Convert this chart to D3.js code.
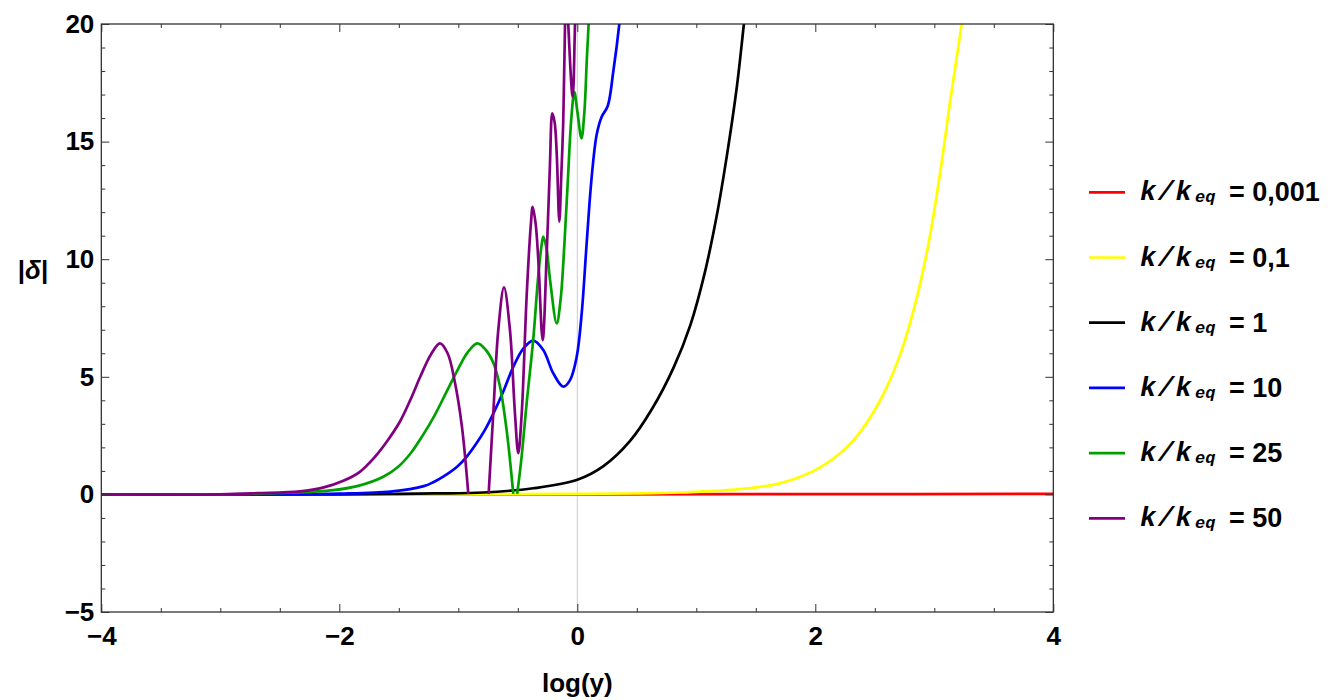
<!DOCTYPE html>
<html lang="en"><head>
<meta charset="utf-8">
<title>delta vs log(y)</title>
<script src="https://cdn.jsdelivr.net/npm/d3@7"></script>
<style>
  body { margin: 0; background: #fff; }
</style>
</head>
<body>
<script type="text/javascript">

// values: [log(y), |delta|]
var red = [[-4, 0], [0, 0.005], [2, 0.01], [4, 0.02]];

var yellow = [[-4, 0], [-1, 0.003], [0, 0.02], [0.5, 0.04], [0.86, 0.08], [1.28, 0.19],
  [1.7, 0.47], [2.04, 1.15], [2.32, 2.3], [2.54, 3.95], [2.71, 5.9], [2.85, 8.3],
  [2.96, 10.9], [3.05, 13.7], [3.13, 16.6], [3.23, 20], [3.3, 22.5]];

var black = [[-4, 0], [-2, 0.005], [-1.5, 0.02], [-1.2, 0.04], [-0.79, 0.08], [-0.37, 0.26],
  [0, 0.62], [0.22, 1.2], [0.44, 2.25], [0.63, 3.65], [0.81, 5.4], [0.95, 7.2],
  [1.07, 9.4], [1.17, 11.8], [1.26, 14.5], [1.34, 17.3], [1.40, 20], [1.45, 22.3]];

var blue = [[-4, 0], [-2.5, 0.005], [-2, 0.03], [-1.57, 0.12], [-1.29, 0.35], [-1.21, 0.52],
  [-1.12, 0.78], [-1.01, 1.18], [-0.93, 1.6], [-0.85, 2.15], [-0.77, 2.8], [-0.7, 3.5],
  [-0.62, 4.4], [-0.54, 5.4], [-0.454, 6.2], [-0.37, 6.54], [-0.286, 6.14], [-0.202, 5.15],
  [-0.118, 4.58], [-0.061, 4.86], [-0.005, 5.85], [0.037, 7.7], [0.079, 10.7], [0.121, 13.5],
  [0.163, 15.3], [0.205, 16.06], [0.255, 16.5], [0.303, 18.0], [0.353, 20], [0.38, 21.5]];

var green = [[-4, 0], [-3, 0.005], [-2.41, 0.07], [-2.05, 0.18], [-1.85, 0.35], [-1.63, 0.75],
  [-1.5, 1.2], [-1.4, 1.75], [-1.3, 2.5], [-1.2, 3.35], [-1.1, 4.35], [-1.0, 5.35],
  [-0.92, 6.05], [-0.84, 6.42], [-0.77, 6.15], [-0.706, 5.6], [-0.65, 4.6], [-0.593, 2.7],
  [-0.538, 0.02],
  null,
  [-0.505, 0.02], [-0.47, 1.5], [-0.425, 3.9], [-0.37, 6.6], [-0.328, 9.3], [-0.3, 10.6],
  [-0.286, 10.96], [-0.26, 10.5], [-0.229, 9.12], [-0.173, 7.27], [-0.14, 8.3], [-0.11, 10.5],
  [-0.08, 13.3], [-0.05, 16.0], [-0.025, 17.1], [0.0, 16.3], [0.035, 15.14], [0.06, 16.3],
  [0.08, 18.5], [0.095, 20], [0.11, 22]];

var purple = [[-4, 0], [-3, 0.005], [-2.69, 0.05], [-2.33, 0.13], [-2.13, 0.3], [-1.966, 0.58],
  [-1.83, 0.95], [-1.7, 1.6], [-1.6, 2.25], [-1.49, 3.1], [-1.4, 4.05], [-1.32, 5.0],
  [-1.23, 5.95], [-1.154, 6.42], [-1.09, 6.0], [-1.03, 4.8], [-0.97, 2.9], [-0.916, 0.02],
  null,
  [-0.745, 0.02], [-0.706, 3.45], [-0.664, 6.99], [-0.616, 8.8], [-0.566, 6.99], [-0.524, 3.45],
  [-0.496, 1.75], [-0.467, 3.45], [-0.425, 8.5], [-0.39, 11.5], [-0.375, 12.23], [-0.35, 11.5],
  [-0.328, 10.0], [-0.291, 6.56], [-0.257, 10.25], [-0.23, 14.0], [-0.21, 16.2], [-0.19, 15.8],
  [-0.173, 14.5], [-0.151, 11.6], [-0.135, 13.5], [-0.118, 15.9], [-0.103, 20], [-0.09, 22],
  [-0.076, 20], [-0.039, 16.9], [-0.019, 20], [-0.005, 22]];

var legendLabels = ["0,001", "0,1", "1", "10", "25", "50"];
var xMajor = [-4, -2, 0, 2, 4];
var yMajor = [-5, 0, 5, 10, 15, 20];

var seriesData = [red, yellow, black, blue, green, purple];
var colors = ["#ff0000", "#ffff00", "#000000", "#0000ff", "#00a000", "#800080"];

var width = 1341;
var height = 700;
var plotL = 101.3, plotR = 1053.3, plotT = 24, plotB = 612;
var sans = "'Liberation Sans', Arial, sans-serif";
var mono = "'Liberation Mono', 'Courier New', monospace";

var svg = d3.select("body").append("svg")
            .attr("width", width)
            .attr("height", height);

var x = d3.scaleLinear().domain([-4, 4]).range([plotL, plotR]);
var y = d3.scaleLinear().domain([-5, 20]).range([plotB, plotT]);

var xMinor = d3.range(-4, 4.01, 0.5).filter(function(v) { return v % 2 !== 0; });
var yMinor = d3.range(-5, 20.01, 1).filter(function(v) { return v % 5 !== 0; });

svg.append("clipPath").attr("id", "plotclip")
   .append("rect")
   .attr("x", plotL).attr("y", plotT)
   .attr("width", plotR - plotL).attr("height", plotB - plotT);

// thin grey axes through the origin
svg.append("line")
   .attr("x1", x(0)).attr("x2", x(0)).attr("y1", plotT).attr("y2", plotB)
   .attr("stroke", "#cccccc").attr("stroke-width", 1);
svg.append("line")
   .attr("x1", plotL).attr("x2", plotR).attr("y1", y(0)).attr("y2", y(0))
   .attr("stroke", "#cccccc").attr("stroke-width", 1);

var line = d3.line()
    .defined(function(d) { return d !== null; })
    .x(function(d) { return x(d[0]); })
    .y(function(d) { return y(d[1]); })
    .curve(d3.curveCatmullRom.alpha(0.5));

svg.append("g").attr("clip-path", "url(#plotclip)")
   .selectAll("path")
   .data(seriesData)
   .enter()
   .append("path")
   .attr("d", line)
   .attr("fill", "none")
   .attr("stroke", function(d, i) { return colors[i]; })
   .attr("stroke-width", 2.7)
   .attr("stroke-linejoin", "round");

// frame
svg.append("rect")
   .attr("x", plotL).attr("y", plotT)
   .attr("width", plotR - plotL).attr("height", plotB - plotT)
   .attr("fill", "none").attr("stroke", "#222").attr("stroke-width", 1.2);

function styleAxis(g) {
    g.select(".domain").remove();
    g.selectAll(".tick line").attr("stroke", "#333").attr("stroke-width", 1);
    g.selectAll("text").attr("font-size", 26).attr("fill", "#000")
     .style("font-family", sans).style("font-weight", "bold");
}

var fmt = d3.format("d");

svg.append("g").attr("transform", "translate(0," + plotB + ")")
   .call(d3.axisBottom(x).tickValues(xMajor).tickSize(-8).tickPadding(15).tickFormat(fmt))
   .call(styleAxis);
svg.append("g").attr("transform", "translate(0," + plotB + ")")
   .call(d3.axisBottom(x).tickValues(xMinor).tickSize(-4).tickFormat(""))
   .call(styleAxis);
svg.append("g").attr("transform", "translate(0," + plotT + ")")
   .call(d3.axisTop(x).tickValues(xMajor).tickSize(-8).tickFormat(""))
   .call(styleAxis);
svg.append("g").attr("transform", "translate(0," + plotT + ")")
   .call(d3.axisTop(x).tickValues(xMinor).tickSize(-4).tickFormat(""))
   .call(styleAxis);

svg.append("g").attr("transform", "translate(" + plotL + ",0)")
   .call(d3.axisLeft(y).tickValues(yMajor).tickSize(-8).tickPadding(7).tickFormat(fmt))
   .call(styleAxis);
svg.append("g").attr("transform", "translate(" + plotL + ",0)")
   .call(d3.axisLeft(y).tickValues(yMinor).tickSize(-4).tickFormat(""))
   .call(styleAxis);
svg.append("g").attr("transform", "translate(" + plotR + ",0)")
   .call(d3.axisRight(y).tickValues(yMajor).tickSize(-8).tickFormat(""))
   .call(styleAxis);
svg.append("g").attr("transform", "translate(" + plotR + ",0)")
   .call(d3.axisRight(y).tickValues(yMinor).tickSize(-4).tickFormat(""))
   .call(styleAxis);

// axis titles
svg.append("text")
   .attr("x", (plotL + plotR) / 2).attr("y", 692)
   .attr("text-anchor", "middle").attr("font-size", 26)
   .style("font-family", sans).style("font-weight", "bold")
   .text("log(y)");

var ylab = svg.append("text")
   .attr("x", 33).attr("y", 279)
   .attr("text-anchor", "middle").attr("font-size", 26)
   .style("font-family", sans).style("font-weight", "bold");
ylab.append("tspan").text("|");
ylab.append("tspan").style("font-style", "italic").text("δ");
ylab.append("tspan").text("|");

// legend
var legend = svg.append("g").selectAll("g")
   .data(legendLabels)
   .enter()
   .append("g")
   .attr("transform", function(d, i) { return "translate(0," + (192.3 + i * 65.2) + ")"; });

legend.append("line")
   .attr("x1", 1089).attr("x2", 1125)
   .attr("stroke", function(d, i) { return colors[i]; })
   .attr("stroke-width", 2.7);

legend.append("text")
   .attr("x", 1140).attr("y", 8)
   .attr("font-size", 27).attr("letter-spacing", 1.5)
   .style("font-family", mono).style("font-style", "italic").style("font-weight", "bold")
   .text("k/k");
legend.append("text")
   .attr("x", 1195).attr("y", 10)
   .attr("font-size", 17)
   .style("font-family", mono).style("font-style", "italic").style("font-weight", "bold")
   .text("eq");
legend.append("text")
   .attr("x", 1229).attr("y", 9)
   .attr("font-size", 27)
   .style("font-family", sans).style("font-weight", "bold")
   .text(function(d) { return "= " + d; });

</script>
</body></html>
